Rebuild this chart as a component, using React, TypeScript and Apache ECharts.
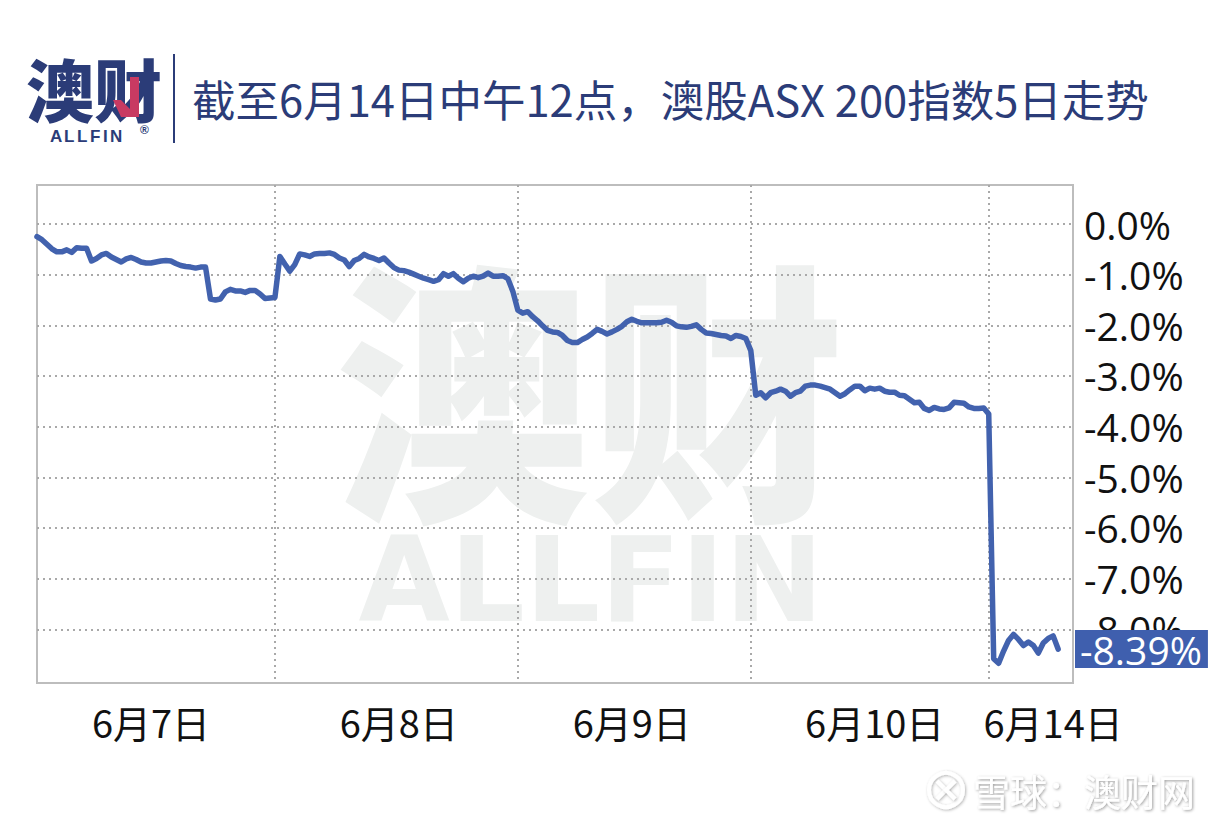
import React, { useEffect, useRef } from 'react';
import * as echarts from 'echarts';

const dayLabels = ['6月7日', '6月8日', '6月9日', '6月10日', '6月14日'];
// index (on the category axis) where each day label sits
const dayLabelIndex = [23, 73, 120, 169, 205];

const day1 = [-0.25, -0.31, -0.40, -0.49, -0.55, -0.55, -0.51, -0.56, -0.47, -0.48, -0.48, -0.73, -0.68, -0.61, -0.58, -0.65, -0.70, -0.75, -0.69, -0.66, -0.70, -0.75, -0.77, -0.77, -0.75, -0.73, -0.72, -0.73, -0.78, -0.82, -0.84, -0.85, -0.87, -0.85, -0.85, -1.48, -1.50, -1.48, -1.34, -1.29, -1.32, -1.32, -1.35, -1.31, -1.31, -1.38, -1.47, -1.46, -1.45];
const day2 = [-0.64, -0.79, -0.93, -0.80, -0.59, -0.61, -0.64, -0.59, -0.58, -0.58, -0.57, -0.60, -0.67, -0.71, -0.84, -0.72, -0.68, -0.60, -0.65, -0.68, -0.72, -0.67, -0.77, -0.86, -0.91, -0.92, -0.95, -0.99, -1.03, -1.07, -1.10, -1.13, -1.10, -0.98, -1.03, -0.98, -1.07, -1.14, -1.07, -1.03, -1.06, -1.03, -0.97, -1.03, -1.03, -1.02, -1.08, -1.33, -1.70];
const day3 = [-1.76, -1.73, -1.83, -1.91, -2.01, -2.10, -2.13, -2.14, -2.20, -2.30, -2.34, -2.34, -2.28, -2.23, -2.16, -2.08, -2.12, -2.17, -2.13, -2.08, -2.02, -1.93, -1.88, -1.92, -1.95, -1.95, -1.95, -1.95, -1.94, -1.90, -1.94, -2.01, -2.03, -2.04, -2.02, -1.99, -2.08, -2.15, -2.16, -2.18, -2.20, -2.21, -2.26, -2.20, -2.22, -2.26, -2.50];
const day4 = [-3.38, -3.33, -3.43, -3.33, -3.30, -3.26, -3.30, -3.40, -3.33, -3.30, -3.20, -3.18, -3.18, -3.20, -3.23, -3.26, -3.33, -3.40, -3.35, -3.27, -3.20, -3.20, -3.29, -3.24, -3.26, -3.24, -3.30, -3.32, -3.32, -3.38, -3.39, -3.46, -3.53, -3.52, -3.64, -3.68, -3.62, -3.65, -3.66, -3.63, -3.52, -3.53, -3.54, -3.61, -3.64, -3.64, -3.63, -3.75];
const day5 = [-8.58, -8.67, -8.43, -8.22, -8.10, -8.20, -8.32, -8.25, -8.32, -8.47, -8.27, -8.18, -8.13, -8.39];

const yTickValues = [0, -1, -2, -3, -4, -5, -6, -7, -8];
const trailingSlots = 3;

const NAVY = '#2b3c78';
const LINE = '#4262ae';

export default function App() {
  const ref = useRef<HTMLDivElement>(null);

  useEffect(() => {
    const chart = echarts.init(ref.current as HTMLDivElement, null, { renderer: 'svg' });
    const days = [day1, day2, day3, day4, day5];
    const values: number[] = [];
    const boundaries = new Set<number>();
    days.forEach((d, k) => {
      d.forEach((v) => values.push(v));
      if (k < days.length - 1) boundaries.add(values.length - 1);
    });
    const total = values.length + trailingSlots;
    const categories = Array.from({ length: total }, (_, i) => String(i));
    const labelMap = new Map<number, string>(dayLabelIndex.map((idx, k) => [idx, dayLabels[k]]));
    const last = values[values.length - 1];

    const dotted = { color: '#a9a9a9', width: 2, type: [2, 4] as number[] };
    const letters = ['A', 'L', 'L', 'F', 'I', 'N'];
    const letterX = [50, 64, 77, 90, 103, 110];
    const shadow = {
      shadowColor: 'rgba(0,0,0,0.3)',
      shadowBlur: 3,
      shadowOffsetX: 1,
      shadowOffsetY: 1,
    };

    chart.setOption({
      animation: false,
      grid: {
        left: 37,
        top: 185,
        width: 1036,
        height: 498,
        show: true,
        borderColor: '#bdbdbd',
        borderWidth: 2,
        backgroundColor: 'transparent',
      },
      xAxis: {
        type: 'category',
        data: categories,
        boundaryGap: false,
        axisLine: { show: false },
        axisTick: { show: false },
        axisLabel: {
          interval: (i: number) => labelMap.has(i),
          formatter: (_v: string, i: number) => labelMap.get(i) || '',
          fontSize: 38,
          color: '#111',
          margin: 19,
          fontFamily: '"Noto Sans CJK SC", sans-serif',
        },
        splitLine: {
          show: true,
          interval: (i: number) => boundaries.has(i),
          lineStyle: dotted,
        },
      },
      yAxis: {
        type: 'value',
        position: 'right',
        min: -9.06,
        max: 0.77,
        axisLine: { show: false },
        axisTick: { show: false, customValues: yTickValues },
        axisLabel: {
          customValues: yTickValues,
          formatter: (v: number) => (Math.abs(v) < 1e-9 ? '0.0%' : v.toFixed(1) + '%'),
          fontSize: 39,
          color: '#111',
          margin: 11,
          fontFamily: '"Open Sans", sans-serif',
        },
        splitLine: { show: true, lineStyle: dotted },
      },
      series: [
        {
          type: 'line',
          data: values,
          showSymbol: false,
          lineStyle: { color: LINE, width: 5.5, cap: 'round', join: 'round' },
          itemStyle: { color: LINE },
          z: 3,
          markLine: {
            silent: true,
            symbol: 'none',
            lineStyle: { color: 'rgba(0,0,0,0)', width: 0 },
            data: [
              {
                yAxis: last,
                label: {
                  show: true,
                  position: 'end',
                  distance: 2,
                  formatter: last.toFixed(2) + '%',
                  backgroundColor: '#3f5fae',
                  color: '#ffffff',
                  fontSize: 39,
                  fontFamily: '"Open Sans", sans-serif',
                  padding: [0, 6, 0, 5],
                  lineHeight: 38,
                },
              },
            ],
          },
        },
      ],
      graphic: {
        elements: [
          // plot watermark
          {
            type: 'text',
            z: -1,
            silent: true,
            x: 590,
            y: 380,
            scaleY: 1.08,
            style: {
              x: 0,
              y: 0,
              text: '澳财',
              align: 'center',
              verticalAlign: 'middle',
              fontSize: 255,
              fontWeight: 900,
              fontFamily: '"Noto Sans CJK SC", sans-serif',
              fill: '#eef0ef',
            },
          },
          {
            type: 'text',
            z: -1,
            silent: true,
            style: {
              x: 591,
              y: 580,
              text: 'ALLFIN',
              align: 'center',
              verticalAlign: 'middle',
              fontSize: 118,
              fontWeight: 'bold',
              fontFamily: '"DejaVu Sans", sans-serif',
              fill: '#eef0ef',
            },
          },
          // logo
          {
            type: 'text',
            style: {
              x: 26,
              y: 87,
              text: '澳财',
              verticalAlign: 'middle',
              fontSize: 68,
              lineHeight: 68,
              fontWeight: 900,
              fontFamily: '"Noto Sans CJK SC", sans-serif',
              fill: NAVY,
            },
          },
          {
            type: 'polygon',
            shape: { points: [[130, 77], [139, 77], [139, 117], [121, 117], [113, 100], [121, 100], [130, 109]] },
            style: { fill: '#c83a62' },
          },
          ...letters.map((ch, k) => ({
            type: 'text',
            style: {
              x: letterX[k],
              y: 136,
              text: ch,
              verticalAlign: 'middle',
              fontSize: 17,
              lineHeight: 17,
              fontWeight: 'bold',
              fontFamily: '"Liberation Sans", sans-serif',
              fill: NAVY,
            },
          })),
          {
            type: 'text',
            style: {
              x: 140,
              y: 130,
              text: '®',
              verticalAlign: 'middle',
              fontSize: 12,
              lineHeight: 12,
              fontWeight: 'bold',
              fontFamily: '"Liberation Sans", sans-serif',
              fill: NAVY,
            },
          },
          {
            type: 'line',
            shape: { x1: 174, y1: 54, x2: 174, y2: 143 },
            style: { stroke: NAVY, lineWidth: 2 },
          },
          // title
          {
            type: 'text',
            style: {
              x: 192,
              y: 98,
              text: '截至6月14日中午12点，澳股ASX 200指数5日走势',
              verticalAlign: 'middle',
              fontSize: 43.5,
              fontFamily: '"Noto Sans CJK SC", sans-serif',
              fill: NAVY,
            },
          },
          // bottom-right watermark
          {
            type: 'circle',
            shape: { cx: 946, cy: 790, r: 17 },
            style: { fill: 'none', stroke: '#ffffff', lineWidth: 4, ...shadow },
          },
          {
            type: 'polyline',
            shape: { points: [[937, 781], [946, 790], [937, 799]] },
            style: { stroke: '#ffffff', lineWidth: 4, fill: 'none', ...shadow },
          },
          {
            type: 'polyline',
            shape: { points: [[955, 781], [946, 790], [955, 799]] },
            style: { stroke: '#ffffff', lineWidth: 4, fill: 'none', ...shadow },
          },
          {
            type: 'text',
            style: {
              x: 973,
              y: 791,
              text: '雪球：澳财网',
              verticalAlign: 'middle',
              fontSize: 37,
              fontFamily: '"Noto Sans CJK SC", sans-serif',
              fill: '#ffffff',
              textShadowColor: 'rgba(0,0,0,0.4)',
              textShadowBlur: 3,
              textShadowOffsetX: 1,
              textShadowOffsetY: 1,
            },
          },
        ],
      },
    });

    return () => {
      chart.dispose();
    };
  }, []);

  return (
    <div
      ref={ref}
      style={{ position: 'fixed', left: 0, top: 0, width: 1228, height: 827, background: '#ffffff' }}
    />
  );
}
